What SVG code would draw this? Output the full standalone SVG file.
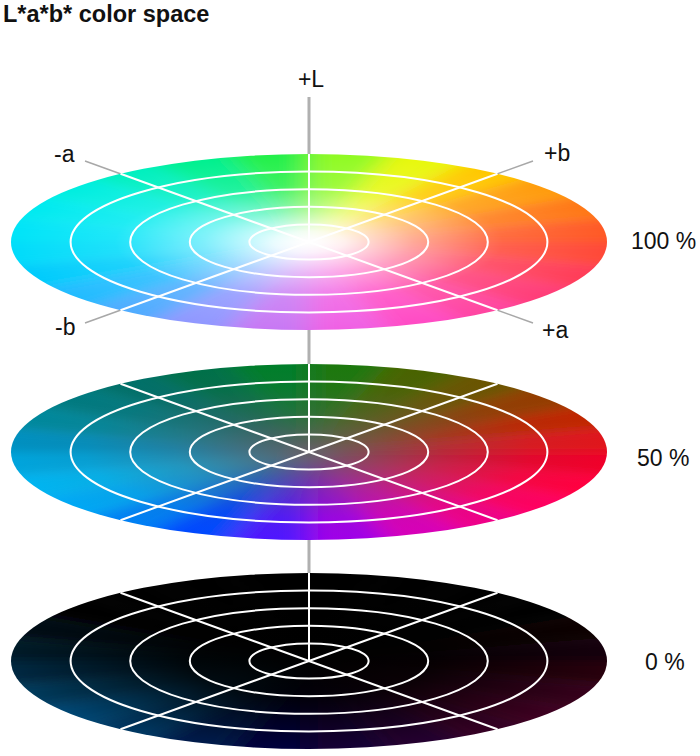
<svg xmlns="http://www.w3.org/2000/svg" xmlns:xlink="http://www.w3.org/1999/xlink" width="700" height="756" viewBox="0 0 700 756">
<style>
  .lbl { font-family: "Liberation Sans", Arial, sans-serif; font-size: 23px; fill: #111; }
  .title { font-family: "Liberation Sans", Arial, sans-serif; font-size: 23.5px; font-weight: bold; fill: #111; }
  .grid { fill: none; stroke: #fff; stroke-width: 2; }
  .axis { stroke: #b0b0b0; stroke-width: 3; fill: none; }
  .ax2 { stroke: #a8a8a8; stroke-width: 1.5; fill: none; }
</style>
<defs>
  <clipPath id="discClip"><ellipse cx="0" cy="0" rx="298" ry="88"/></clipPath>
  <filter id="soft" x="-0.1" y="-0.1" width="1.2" height="1.2"><feGaussianBlur stdDeviation="14 4"/></filter>
  <radialGradient id="whiteC" cx="0.5" cy="0.5" r="0.5">
    <stop offset="0" stop-color="#fff" stop-opacity="1"/>
    <stop offset="0.12" stop-color="#fff" stop-opacity="0.9"/>
    <stop offset="0.35" stop-color="#fff" stop-opacity="0.5"/>
    <stop offset="0.65" stop-color="#fff" stop-opacity="0.12"/>
    <stop offset="1" stop-color="#fff" stop-opacity="0"/>
  </radialGradient>
  <radialGradient id="grayC" cx="0.5" cy="0.5" r="0.5">
    <stop offset="0" stop-color="#5e5e62" stop-opacity="0.95"/>
    <stop offset="0.2" stop-color="#5e5e62" stop-opacity="0.7"/>
    <stop offset="0.45" stop-color="#5e5e62" stop-opacity="0.35"/>
    <stop offset="0.75" stop-color="#5e5e62" stop-opacity="0.08"/>
    <stop offset="1" stop-color="#5e5e62" stop-opacity="0"/>
  </radialGradient>
  <radialGradient id="blackC" cx="0.5" cy="0.5" r="0.5">
    <stop offset="0" stop-color="#000" stop-opacity="1"/>
    <stop offset="0.4" stop-color="#000" stop-opacity="0.85"/>
    <stop offset="0.8" stop-color="#000" stop-opacity="0.3"/>
    <stop offset="1" stop-color="#000" stop-opacity="0.05"/>
  </radialGradient>
  <path id="w0" d="M0 0L417.2 0L403 31.9Z"/>
  <path id="w1" d="M0 0L403 31.9L361.3 61.6Z"/>
  <path id="w2" d="M0 0L361.3 61.6L295 87.1Z"/>
  <path id="w3" d="M0 0L295 87.1L208.6 106.7Z"/>
  <path id="w4" d="M0 0L208.6 106.7L108 119Z"/>
  <path id="w5" d="M0 0L108 119L0 123.2Z"/>
  <path id="w6" d="M0 0L0 123.2L-108 119Z"/>
  <path id="w7" d="M0 0L-108 119L-208.6 106.7Z"/>
  <path id="w8" d="M0 0L-208.6 106.7L-295 87.1Z"/>
  <path id="w9" d="M0 0L-295 87.1L-361.3 61.6Z"/>
  <path id="w10" d="M0 0L-361.3 61.6L-403 31.9Z"/>
  <path id="w11" d="M0 0L-403 31.9L-417.2 0Z"/>
  <path id="w12" d="M0 0L-417.2 0L-403 -31.9Z"/>
  <path id="w13" d="M0 0L-403 -31.9L-361.3 -61.6Z"/>
  <path id="w14" d="M0 0L-361.3 -61.6L-295 -87.1Z"/>
  <path id="w15" d="M0 0L-295 -87.1L-208.6 -106.7Z"/>
  <path id="w16" d="M0 0L-208.6 -106.7L-108 -119Z"/>
  <path id="w17" d="M0 0L-108 -119L0 -123.2Z"/>
  <path id="w18" d="M0 0L0 -123.2L108 -119Z"/>
  <path id="w19" d="M0 0L108 -119L208.6 -106.7Z"/>
  <path id="w20" d="M0 0L208.6 -106.7L295 -87.1Z"/>
  <path id="w21" d="M0 0L295 -87.1L361.3 -61.6Z"/>
  <path id="w22" d="M0 0L361.3 -61.6L403 -31.9Z"/>
  <path id="w23" d="M0 0L403 -31.9L417.2 0Z"/>
  <g id="gridLines" class="grid">
    <ellipse rx="59.6" ry="17.6"/>
    <ellipse rx="119.2" ry="35.2"/>
    <ellipse rx="178.8" ry="52.8"/>
    <ellipse rx="238.4" ry="70.4"/>
    <path d="M-188.5 -68.2L188.5 68.2M-188.5 68.2L188.5 -68.2M0 -88L0 0"/>
  </g>
</defs>

<text class="title" x="3" y="22">L*a*b* color space</text>

<g id="connectors">
  <line class="axis" x1="309" y1="97" x2="309" y2="660"/>
  <line class="ax2" x1="85" y1="161" x2="533" y2="323"/>
  <line class="ax2" x1="85" y1="323" x2="533" y2="161"/>
</g>

<g id="disc-100" transform="translate(309,242)">
  <g clip-path="url(#discClip)">
    <g filter="url(#soft)">
      <use xlink:href="#w0" fill="#ff4838"/>
      <use xlink:href="#w1" fill="#ff3c58"/>
      <use xlink:href="#w2" fill="#ff3c78"/>
      <use xlink:href="#w3" fill="#ff44a0"/>
      <use xlink:href="#w4" fill="#ff4cc4"/>
      <use xlink:href="#w5" fill="#f060e4"/>
      <use xlink:href="#w6" fill="#c878f4"/>
      <use xlink:href="#w7" fill="#9098ff"/>
      <use xlink:href="#w8" fill="#50acff"/>
      <use xlink:href="#w9" fill="#20bcff"/>
      <use xlink:href="#w10" fill="#00ccfc"/>
      <use xlink:href="#w11" fill="#00dcfa"/>
      <use xlink:href="#w12" fill="#00e4f8"/>
      <use xlink:href="#w13" fill="#00eaf0"/>
      <use xlink:href="#w14" fill="#00eee0"/>
      <use xlink:href="#w15" fill="#00f0c0"/>
      <use xlink:href="#w16" fill="#00f090"/>
      <use xlink:href="#w17" fill="#20f048"/>
      <use xlink:href="#w18" fill="#90fa20"/>
      <use xlink:href="#w19" fill="#e8f810"/>
      <use xlink:href="#w20" fill="#ffc800"/>
      <use xlink:href="#w21" fill="#ff9c10"/>
      <use xlink:href="#w22" fill="#ff7818"/>
      <use xlink:href="#w23" fill="#ff5a28"/>
    </g>
    <ellipse rx="298" ry="88" fill="url(#whiteC)"/>
  </g>
  <use xlink:href="#gridLines"/>
</g>

<g id="disc-50" transform="translate(309,452)">
  <g clip-path="url(#discClip)">
    <g filter="url(#soft)">
      <use xlink:href="#w0" fill="#f0002c"/>
      <use xlink:href="#w1" fill="#ff0040"/>
      <use xlink:href="#w2" fill="#ff0060"/>
      <use xlink:href="#w3" fill="#f00088"/>
      <use xlink:href="#w4" fill="#d800b8"/>
      <use xlink:href="#w5" fill="#a000e8"/>
      <use xlink:href="#w6" fill="#5018ff"/>
      <use xlink:href="#w7" fill="#0048ff"/>
      <use xlink:href="#w8" fill="#0080f4"/>
      <use xlink:href="#w9" fill="#00a8f4"/>
      <use xlink:href="#w10" fill="#00b4f0"/>
      <use xlink:href="#w11" fill="#00a4dc"/>
      <use xlink:href="#w12" fill="#0090c0"/>
      <use xlink:href="#w13" fill="#00889c"/>
      <use xlink:href="#w14" fill="#007a80"/>
      <use xlink:href="#w15" fill="#007068"/>
      <use xlink:href="#w16" fill="#007048"/>
      <use xlink:href="#w17" fill="#007e2c"/>
      <use xlink:href="#w18" fill="#1e7810"/>
      <use xlink:href="#w19" fill="#486400"/>
      <use xlink:href="#w20" fill="#6a5400"/>
      <use xlink:href="#w21" fill="#943e00"/>
      <use xlink:href="#w22" fill="#c02800"/>
      <use xlink:href="#w23" fill="#e0141c"/>
    </g>
    <ellipse rx="298" ry="88" fill="url(#grayC)"/>
  </g>
  <use xlink:href="#gridLines"/>
</g>

<g id="disc-0" transform="translate(309,661)">
  <g clip-path="url(#discClip)">
    <g filter="url(#soft)">
      <use xlink:href="#w0" fill="#2a0010"/>
      <use xlink:href="#w1" fill="#38001a"/>
      <use xlink:href="#w2" fill="#400020"/>
      <use xlink:href="#w3" fill="#380028"/>
      <use xlink:href="#w4" fill="#280030"/>
      <use xlink:href="#w5" fill="#140038"/>
      <use xlink:href="#w6" fill="#020040"/>
      <use xlink:href="#w7" fill="#001a50"/>
      <use xlink:href="#w8" fill="#003a68"/>
      <use xlink:href="#w9" fill="#004a78"/>
      <use xlink:href="#w10" fill="#003c60"/>
      <use xlink:href="#w11" fill="#002a44"/>
      <use xlink:href="#w12" fill="#001a2c"/>
      <use xlink:href="#w13" fill="#000c16"/>
      <use xlink:href="#w14" fill="#000"/>
      <use xlink:href="#w15" fill="#000"/>
      <use xlink:href="#w16" fill="#000"/>
      <use xlink:href="#w17" fill="#000"/>
      <use xlink:href="#w18" fill="#000"/>
      <use xlink:href="#w19" fill="#000"/>
      <use xlink:href="#w20" fill="#000"/>
      <use xlink:href="#w21" fill="#000"/>
      <use xlink:href="#w22" fill="#080002"/>
      <use xlink:href="#w23" fill="#180008"/>
    </g>
    <ellipse rx="298" ry="88" fill="url(#blackC)"/>
  </g>
  <use xlink:href="#gridLines"/>
</g>

<g id="labels">
  <text class="lbl" x="311" y="87" text-anchor="middle">+L</text>
  <text class="lbl" x="54" y="162">-a</text>
  <text class="lbl" x="544" y="161">+b</text>
  <text class="lbl" x="55" y="335">-b</text>
  <text class="lbl" x="542" y="338">+a</text>
  <text class="lbl" x="631" y="249">100 %</text>
  <text class="lbl" x="637" y="466">50 %</text>
  <text class="lbl" x="645" y="670">0 %</text>
</g>
</svg>
